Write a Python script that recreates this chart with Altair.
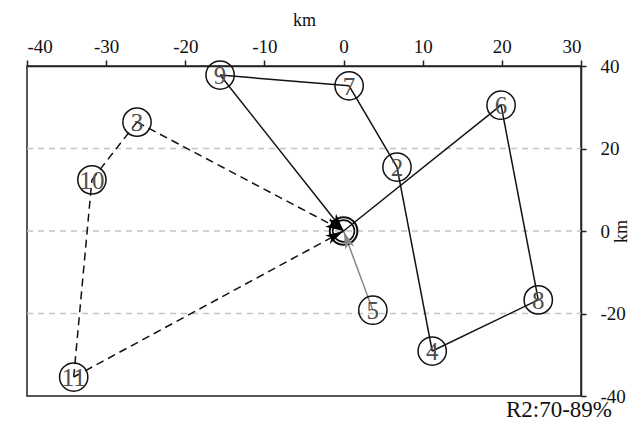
import altair as alt
import pandas as pd

# ---- data ----
station_names = ["0", "2", "3", "4", "5", "6", "7", "8", "9", "10", "11"]
station_x = [0.0, 6.75, -26.1, 11.2, 3.7, 19.9, 0.7, 24.6, -15.6, -31.8, -34.1]
station_y = [0.0, 15.5, 26.4, -29.1, -19.2, 30.5, 35.2, -16.7, 37.8, 12.4, -35.4]

seg_from = ["0", "6", "8", "4", "2", "7", "9", "3", "10", "11", "11", "5"]
seg_to = ["6", "8", "4", "2", "7", "9", "0", "0", "3", "10", "0", "0"]
seg_style = ["solid", "solid", "solid", "solid", "solid", "solid", "solid",
             "dashed", "dashed", "dashed", "dashed", "gray"]
seg_arrow = [False, False, False, False, False, False, True,
             True, False, False, True, True]

x_ticks = [-40, -30, -20, -10, 0, 10, 20, 30]
y_ticks = [-40, -20, 0, 20, 40]
grid_y = [-20, 0, 20]
note_text = "R2:70-89%"

W, H = 554, 330
XMIN, XMAX = -40, 30
YMIN, YMAX = -40, 40
SX = W / (XMAX - XMIN)
SY = H / (YMAX - YMIN)
FONT = "Liberation Serif"

pos = {n: (x, y) for n, x, y in zip(station_names, station_x, station_y)}
stations = pd.DataFrame({"name": station_names, "x": station_x, "y": station_y})
labels = stations[stations["name"] != "0"]
center = stations[stations["name"] == "0"]
segs = pd.DataFrame({
    "x": [pos[a][0] for a in seg_from],
    "y": [pos[a][1] for a in seg_from],
    "x2": [pos[b][0] for b in seg_to],
    "y2": [pos[b][1] for b in seg_to],
    "style": seg_style,
    "arrow": seg_arrow,
})
grid_df = pd.DataFrame({"gy": grid_y})
note_df = pd.DataFrame({"t": [note_text]})

xscale = alt.Scale(domain=[XMIN, XMAX], nice=False, zero=False)
yscale = alt.Scale(domain=[YMIN, YMAX], nice=False, zero=False)
xaxis = alt.Axis(orient="top", values=x_ticks, title="km", grid=False,
                 labelExpr="datum.value + ''",
                 tickSize=6, labelPadding=4, titlePadding=8,
                 domainColor="#222", tickColor="#222", domainWidth=1.5, tickWidth=1.5,
                 labelFont=FONT, labelFontSize=19, labelColor="#111",
                 titleFont=FONT, titleFontSize=18, titleFontWeight="normal", titleColor="#111")
yaxis = alt.Axis(orient="right", values=y_ticks, title="km", grid=False,
                 labelExpr="datum.value + ''",
                 tickSize=5, labelPadding=14,
                 domainColor="#222", tickColor="#222", domainWidth=1.5, tickWidth=1.5,
                 labelFont=FONT, labelFontSize=19, labelColor="#111", labelAlign="left",
                 titleFont=FONT, titleFontSize=18, titleFontWeight="normal", titleColor="#111",
                 titleAngle=270, titleX=40, titleY=H / 2, titleAlign="center",
                 titleBaseline="middle")


def X(f):
    return alt.X(f, type="quantitative", scale=xscale, axis=xaxis, title="km")


def Y(f):
    return alt.Y(f, type="quantitative", scale=yscale, axis=yaxis, title="km")


grid = alt.Chart(grid_df).mark_rule(color="#c4c4c4", strokeWidth=1.5, strokeDash=[6, 5]).encode(
    y=Y("gy"), x=alt.value(0), x2=alt.value(W))

base_seg = alt.Chart(segs)
solid = base_seg.transform_filter("datum.style == 'solid'").mark_rule(
    color="#111", strokeWidth=1.5).encode(x=X("x"), y=Y("y"), x2="x2", y2="y2")
dashed = base_seg.transform_filter("datum.style == 'dashed'").mark_rule(
    color="#111", strokeWidth=1.5, strokeDash=[8, 5]).encode(x=X("x"), y=Y("y"), x2="x2", y2="y2")
gray = base_seg.transform_filter("datum.style == 'gray'").mark_rule(
    color="#888", strokeWidth=1.5).encode(x=X("x"), y=Y("y"), x2="x2", y2="y2")

circles = alt.Chart(labels).mark_point(shape="circle", filled=False, size=800,
                                       color="#111", strokeWidth=1.5, opacity=1).encode(
    x=X("x"), y=Y("y"))
outer = alt.Chart(center).mark_point(shape="circle", filled=False, size=760,
                                     color="#111", strokeWidth=2, opacity=1).encode(
    x=X("x"), y=Y("y"))
inner = alt.Chart(center).mark_point(shape="circle", filled=False, size=470,
                                     color="#111", strokeWidth=1.6, opacity=1).encode(
    x=X("x"), y=Y("y"))
text = alt.Chart(labels).mark_text(font=FONT, fontSize=25, color="#505050",
                                   baseline="middle", align="center", dy=1).encode(
    x=X("x"), y=Y("y"), text="name")

arrow_path = "M0,0L0.42,1.6L0,1.2L-0.42,1.6Z"
arrows_src = base_seg.transform_filter("datum.arrow").transform_calculate(
    ang=f"(atan2((datum.x2-datum.x)*{SX},(datum.y2-datum.y)*{SY})*180/PI+360)%360")
arrows_black = arrows_src.transform_filter("datum.style != 'gray'").mark_point(
    shape=arrow_path, filled=True, size=520, color="#000", opacity=1, strokeWidth=0).encode(
    x=X("x2"), y=Y("y2"), angle=alt.Angle("ang:Q", scale=None))
arrows_gray = arrows_src.transform_filter("datum.style == 'gray'").mark_point(
    shape=arrow_path, filled=True, size=520, color="#888", opacity=1, strokeWidth=0).encode(
    x=X("x2"), y=Y("y2"), angle=alt.Angle("ang:Q", scale=None))

note = alt.Chart(note_df).mark_text(font=FONT, fontSize=23, color="#111", align="right",
                                    baseline="alphabetic").encode(
    x=alt.value(585), y=alt.value(351), text="t")

chart = alt.layer(grid, gray, solid, dashed, circles, outer, inner, text,
                  arrows_black, arrows_gray, note).properties(
    width=W, height=H,
    autosize=alt.AutoSizeParams(type="none"),
    padding={"left": 19, "top": 58, "right": 50, "bottom": 27},
    background="white",
).configure_view(stroke="#222", strokeWidth=1.5)

chart.save("out.html", embed_options={"renderer": "svg", "actions": False})
